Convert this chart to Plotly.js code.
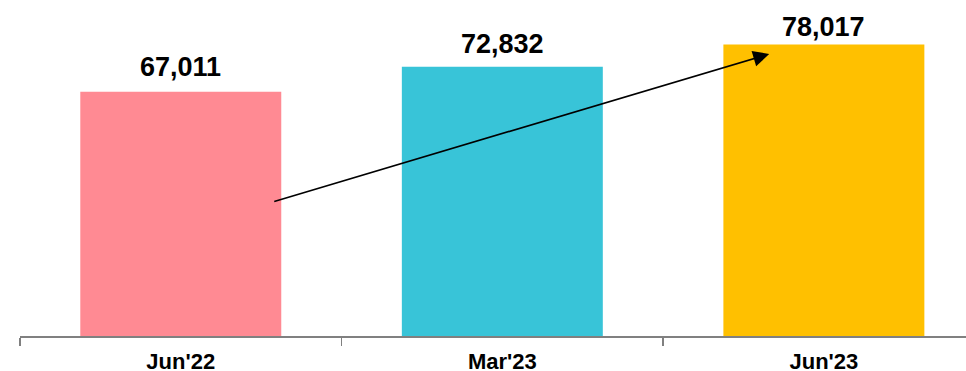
<!DOCTYPE html>
<html>
<head>
<meta charset="utf-8">
<script src="https://cdn.plot.ly/plotly-3.0.1.min.js"></script>
<style>html,body{margin:0;padding:0;background:#fff;}#chart{width:966px;height:371px;}</style>
</head>
<body>
<div id="chart"></div>
<script>
const categories = ["Jun'22", "Mar'23", "Jun'23"];
const values = [67011, 72832, 78017];
const barColors = ["#FF8A93", "#38C4D8", "#FFC000"];
const arrowFrom = [0.286, 41300];
const arrowTo = [1.830, 75800];

// pixel offsets of the value labels above their bars (styling)
const labelLift = [25, 23, 18];

const labelAnnotations = categories.map((c, i) => ({
  x: c, y: values[i], xref: 'x', yref: 'y',
  text: values[i].toLocaleString('en-US'),
  showarrow: false, yanchor: 'middle', yshift: labelLift[i],
  font: {family: 'Arial, "Liberation Sans", sans-serif', size: 27, color: '#000', weight: 'bold'}
}));

const arrowAnnotation = {
  x: arrowTo[0], y: arrowTo[1], ax: arrowFrom[0], ay: arrowFrom[1],
  xref: 'x', yref: 'y', axref: 'x', ayref: 'y',
  showarrow: true, arrowhead: 2, arrowsize: 2.0, arrowwidth: 1.6, arrowcolor: '#000', text: ''
};

const data = [{
  type: 'bar', x: categories, y: values,
  marker: {color: barColors}, hoverinfo: 'none'
}];

const layout = {
  width: 966, height: 371,
  margin: {l: 20, r: 0, t: 36, b: 35},
  paper_bgcolor: '#fff', plot_bgcolor: '#fff',
  bargap: 0.375,
  showlegend: false,
  xaxis: {
    type: 'category', range: [-0.5, 2.442],
    showline: true, linecolor: '#808080', linewidth: 2,
    ticks: 'outside', tickson: 'boundaries', ticklen: 8, tickcolor: '#808080', tickwidth: 1.5,
    showgrid: false, zeroline: false,
    tickfont: {family: 'Arial, "Liberation Sans", sans-serif', size: 22, color: '#000', weight: 'bold'},
    ticklabelstandoff: 5
  },
  yaxis: {
    range: [10000, 80000], visible: false, showgrid: false, zeroline: false
  },
  annotations: labelAnnotations.concat([arrowAnnotation])
};

Plotly.newPlot('chart', data, layout, {displayModeBar: false, staticPlot: true});
</script>
</body>
</html>
